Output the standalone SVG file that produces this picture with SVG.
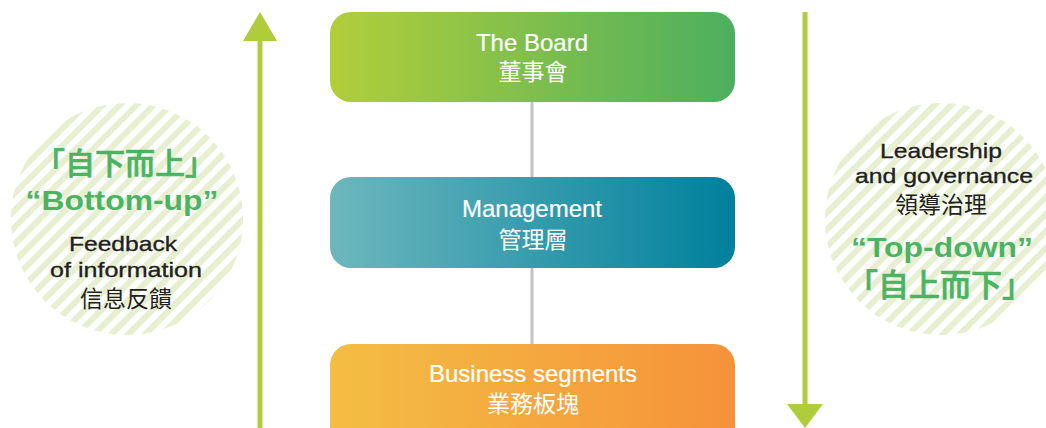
<svg xmlns="http://www.w3.org/2000/svg" width="1046" height="428" viewBox="0 0 1046 428">
  <defs>
    <linearGradient id="gBoard" x1="0" y1="0" x2="1" y2="0">
      <stop offset="0" stop-color="#b2ce3a"/>
      <stop offset="1" stop-color="#4caf5f"/>
    </linearGradient>
    <linearGradient id="gMgmt" x1="0" y1="0" x2="1" y2="0">
      <stop offset="0" stop-color="#6db7bd"/>
      <stop offset="1" stop-color="#00809d"/>
    </linearGradient>
    <linearGradient id="gBiz" x1="0" y1="0" x2="1" y2="0">
      <stop offset="0" stop-color="#f3be43"/>
      <stop offset="1" stop-color="#f6923a"/>
    </linearGradient>
    <pattern id="stripes" patternUnits="userSpaceOnUse" width="12" height="12" patternTransform="rotate(45)">
      <rect x="0" y="0" width="6" height="12" fill="#e7efd0"/>
    </pattern>
  </defs>
  <style>
    .lbl { font-family: "Liberation Sans", "Noto Sans CJK TC", sans-serif; fill: #ffffff; text-anchor: middle; font-size: 24px; stroke: #ffffff; stroke-width: 0.2px; }
    .cjk { font-family: "Noto Sans CJK TC", sans-serif; text-anchor: middle; }
    .dark { font-family: "Liberation Sans", "Noto Sans CJK TC", sans-serif; fill: #231f20; text-anchor: middle; font-size: 21px; stroke: #231f20; stroke-width: 0.35px; }
    .green { fill: #4bb462; stroke: #4bb462; stroke-width: 0.7px; }
    .bigq { font-family: "Liberation Sans", sans-serif; font-weight: bold; font-size: 28px; text-anchor: middle; fill: #4bb462; }
    .arrow { fill: #afcd3a; }
    .conn { stroke: #c3c3cb; stroke-width: 3; fill: none; }
  </style>
  <rect width="1046" height="428" fill="#ffffff"/>

  <g id="bottom-up-circle">
    <circle cx="127" cy="219" r="116" fill="url(#stripes)"/>
    <text class="cjk green" x="125" y="174" font-size="30" font-weight="500">「自下而上」</text>
    <text class="bigq" x="122" y="210" textLength="193" lengthAdjust="spacingAndGlyphs">“Bottom-up”</text>
    <text class="dark" x="123" y="251" textLength="108" lengthAdjust="spacingAndGlyphs">Feedback</text>
    <text class="dark" x="126" y="277" textLength="152" lengthAdjust="spacingAndGlyphs">of information</text>
    <text class="cjk" x="126" y="307" font-size="23" fill="#231f20">信息反饋</text>
  </g>

  <g id="top-down-circle">
    <circle cx="941" cy="219" r="116" fill="url(#stripes)"/>
    <text class="dark" x="941" y="158" textLength="122" lengthAdjust="spacingAndGlyphs">Leadership</text>
    <text class="dark" x="944" y="183" textLength="178" lengthAdjust="spacingAndGlyphs">and governance</text>
    <text class="cjk" x="941" y="213" font-size="23" fill="#231f20">領導治理</text>
    <text class="bigq" x="942" y="257" textLength="182" lengthAdjust="spacingAndGlyphs">“Top-down”</text>
    <text class="cjk green" x="940" y="296" font-size="31" font-weight="500">「自上而下」</text>
  </g>

  <g id="connectors">
    <line class="conn" x1="532" y1="100" x2="532" y2="180"/>
    <line class="conn" x1="532" y1="266" x2="532" y2="346"/>
    <g id="arrow-up">
      <rect class="arrow" x="257.5" y="38" width="5" height="392"/>
      <polygon class="arrow" points="260,12 243,41 277,41"/>
    </g>
    <g id="arrow-down">
      <rect class="arrow" x="802.5" y="12" width="5" height="395"/>
      <polygon class="arrow" points="787,404 823,404 805,428"/>
    </g>
  </g>

  <g id="board">
    <rect x="330" y="12" width="405" height="90" rx="21" fill="url(#gBoard)"/>
    <text class="lbl" x="532" y="51">The Board</text>
    <text class="cjk" x="533" y="80" font-size="23" fill="#ffffff">董事會</text>
  </g>

  <g id="management">
    <rect x="330" y="177" width="405" height="91" rx="21" fill="url(#gMgmt)"/>
    <text class="lbl" x="532" y="217">Management</text>
    <text class="cjk" x="533" y="248" font-size="23" fill="#ffffff">管理層</text>
  </g>

  <g id="business">
    <rect x="330" y="344" width="405" height="110" rx="21" fill="url(#gBiz)"/>
    <text class="lbl" x="533" y="382">Business segments</text>
    <text class="cjk" x="533" y="412" font-size="23" fill="#ffffff">業務板塊</text>
  </g>
</svg>
